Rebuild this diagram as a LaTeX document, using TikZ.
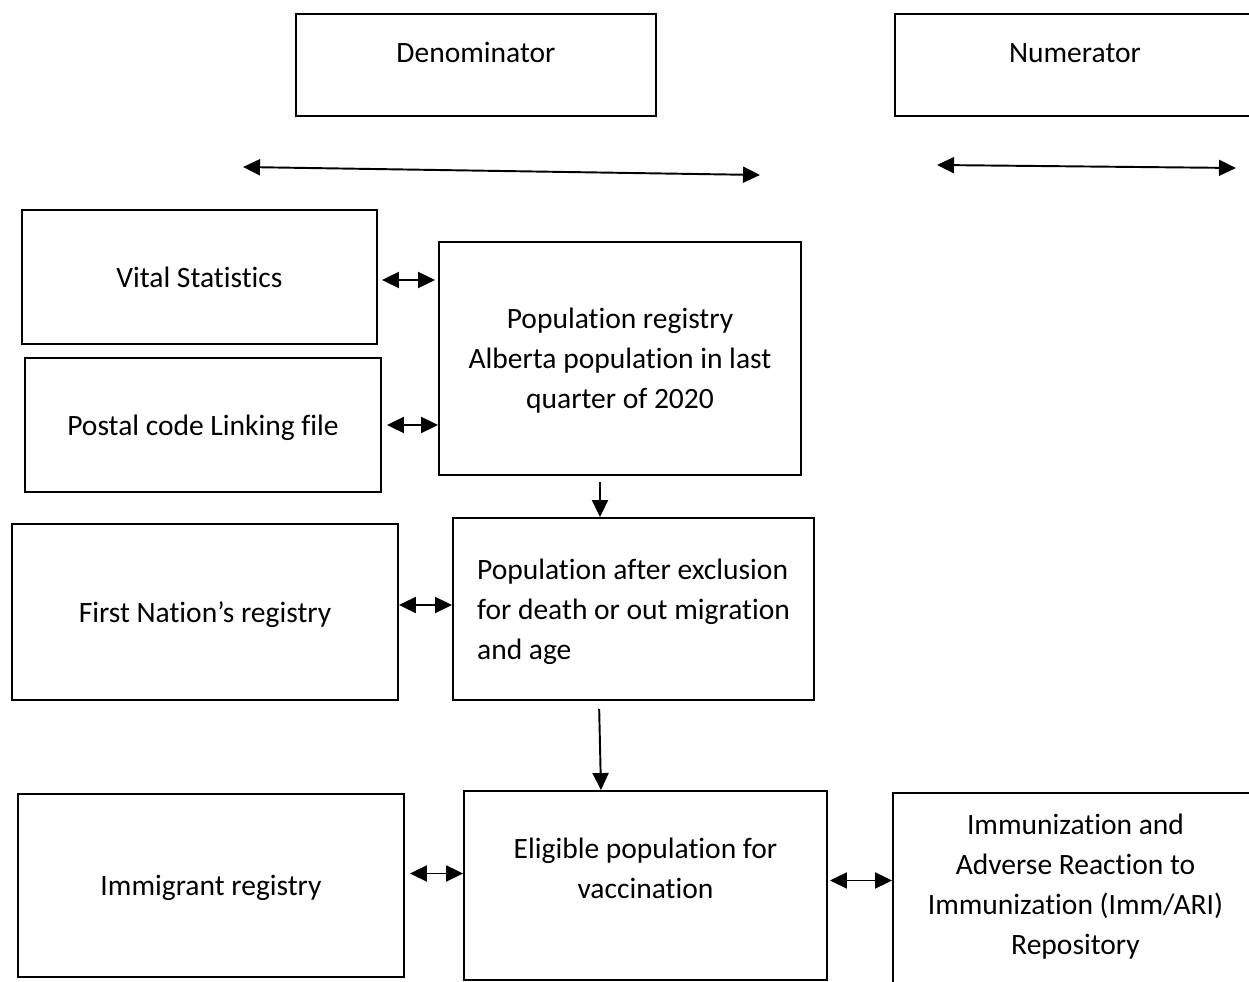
\documentclass[tikz,border=0pt]{standalone}
\usepackage{fontspec}
\setmainfont{Carlito}[Ligatures=NoCommon]
\usetikzlibrary{arrows.meta,calc}

\begin{document}
\begin{tikzpicture}[x=0.02cm,y=-0.02cm]
        \tikzstyle{every node}=[font=\fontsize{16.8}{22.8}\selectfont]
        \tikzstyle{box}=[draw,line width=1.1pt,inner sep=0pt,align=center,text depth=0pt]
        \tikzstyle{link}=[line width=1.1pt,{Triangle[length=0.34cm,width=0.32cm]}-{Triangle[length=0.34cm,width=0.32cm]}]
        \tikzstyle{flow}=[line width=1.1pt,-{Triangle[length=0.34cm,width=0.32cm]}]
        \useasboundingbox (0,0) rectangle (1249,982);
        % headers
        \node[box,minimum width=7.2cm,minimum height=2.04cm,text depth=0.49cm] (den) at (476,65) {Denominator};
        \node[box,minimum width=7.2cm,minimum height=2.04cm,text depth=0.49cm] (num) at (1075,65) {Numerator};
        \coordinate (denL) at (243,167);
        \coordinate (denR) at (760,175);
        \coordinate (numL) at (937,165);
        \coordinate (numR) at (1236,168);
        \draw[link] (denL) -- (denR);
        \draw[link] (numL) -- (numR);
        % sources
        \node[box,minimum width=7.1cm,minimum height=2.68cm] (vital) at (199.5,277) {Vital Statistics};
        \node[box,minimum width=7.12cm,minimum height=2.68cm] (postal) at (203,425) {Postal code Linking file};
        \node[box,minimum width=7.72cm,minimum height=3.52cm] (fnr) at (205,612) {First Nation’s registry};
        \node[box,minimum width=7.72cm,minimum height=3.66cm] (immig) at (211,885.5) {Immigrant registry};
        % population steps
        \node[box,minimum width=7.24cm,minimum height=4.66cm] (popreg) at (620,358.5) {Population registry\\Alberta population in last\\quarter of 2020};
        \node[box,minimum width=7.22cm,minimum height=3.64cm,align=left] (excl) at (633.5,609) {Population after exclusion\\for death or out migration\\and age};
        \node[box,minimum width=7.26cm,minimum height=3.78cm,text depth=0.69cm] (elig) at (645.5,885.5) {Eligible population for\\vaccination};
        \node[box,minimum width=7.3cm,minimum height=3.94cm,text depth=0.29cm] (immun) at (1075.5,891.5) {Immunization and\\Adverse Reaction to\\Immunization (Imm/ARI)\\Repository};
        % links
        \draw[link,shorten <=4*0.02cm,shorten >=3*0.02cm] ([yshift=-3*0.02cm]vital.east) -- ([yshift=-3*0.02cm]vital.east -| popreg.west);
        \draw[link,shorten <=5*0.02cm] (postal.east) -- (postal.east -| popreg.west);
        \draw[link] ([yshift=7*0.02cm]fnr.east) -- ([yshift=7*0.02cm]fnr.east -| excl.west);
        \draw[link,shorten <=5*0.02cm] ([yshift=12*0.02cm]immig.east) -- ([yshift=12*0.02cm]immig.east -| elig.west);
        \draw[link,shorten <=2*0.02cm] ([yshift=5*0.02cm]elig.east) -- ([yshift=5*0.02cm]elig.east -| immun.west);
        \draw[flow,shorten <=6*0.02cm] ([xshift=-20*0.02cm]popreg.south) -- ([xshift=-20*0.02cm]popreg.south |- excl.north);
        \draw[flow,shorten <=8*0.02cm] ([xshift=-34.5*0.02cm]excl.south) -- ([xshift=-44.5*0.02cm]elig.north);
    \end{tikzpicture}
\end{document}
